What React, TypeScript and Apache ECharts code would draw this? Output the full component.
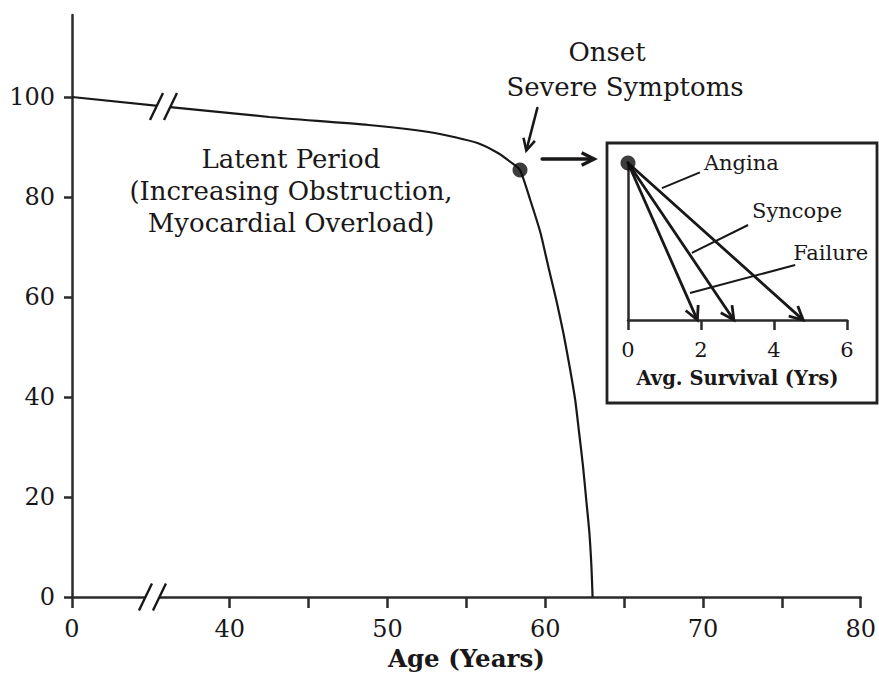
import React, { useEffect, useRef } from "react";
import * as echarts from "echarts";

// ---- data ----
const ages = [
  0, 42.5, 48.8, 53.0, 55.7, 57.0, 57.8, 58.4, 59.05, 59.7, 60.2, 60.7, 61.15, 61.55, 61.9, 62.15, 62.4,
  62.6, 62.8, 62.93, 63.0,
];
const survival = [
  100, 96.0, 94.4, 92.8, 90.8, 88.8, 87.0, 85.4, 79.4, 72.8, 66.0, 59.4, 52.8, 46.0, 39.4, 32.8, 26.0, 19.4,
  12.8, 6.0, 0,
];
const onsetAge = 58.4;
const onsetSurvival = 85.4;
const xTickValues = [0, 40, 45, 50, 55, 60, 65, 70, 75, 80];
const xLabelValues = [0, 40, 50, 60, 70, 80];
const yLabelValues = [0, 20, 40, 60, 80, 100];
const symptoms = ["Angina", "Syncope", "Failure"];
const avgSurvivalYears = [4.8, 2.9, 1.9];
const insetTicks = [0, 2, 4, 6];

// axis break: ages below 40 are drawn shifted (age 0 sits where 30 would be)
const BREAK_SHIFT = 30;
const toAxis = (a: number) => (a < 40 ? a + BREAK_SHIFT : a);
const fromAxis = (v: number) => (v < 40 ? v - BREAK_SHIFT : v);

// annotation anchors (data coordinates)
const ANN = {
  onsetArrow: [59.5, 97.8, 58.8, 89.3],
  toInsetArrow: [59.8, 87.6, 63.1, 87.6],
  breaks: [
    [35.1, 0],
    [35.8, 98.1],
  ],
  leaders: [
    [0.93, 0.84, 1.97, 0.94],
    [1.75, 0.427, 3.29, 0.605],
    [1.7, 0.172, 4.58, 0.35],
  ],
  leaderTextOffset: [
    [4, -9],
    [4, -14],
    [-2, -12],
  ],
};

const FONT = '"DejaVu Serif", "Liberation Serif", serif';
const INK = "#1a1718";

function arrowRender(lw: number, head: number) {
  return (params: any, api: any) => {
    const p1 = api.coord([api.value(0), api.value(1)]);
    const p2 = api.coord([api.value(2), api.value(3)]);
    const dx = p2[0] - p1[0];
    const dy = p2[1] - p1[1];
    const len = Math.hypot(dx, dy) || 1;
    const ux = dx / len;
    const uy = dy / len;
    const ang = (27 * Math.PI) / 180;
    const rot = (a: number) => [ux * Math.cos(a) - uy * Math.sin(a), ux * Math.sin(a) + uy * Math.cos(a)];
    const b1 = rot(ang);
    const b2 = rot(-ang);
    const pts = [
      [p2[0] - head * b1[0], p2[1] - head * b1[1]],
      [p2[0], p2[1]],
      [p2[0] - head * b2[0], p2[1] - head * b2[1]],
    ];
    return {
      type: "group",
      children: [
        {
          type: "line",
          shape: { x1: p1[0], y1: p1[1], x2: p2[0] - ux * 1, y2: p2[1] - uy * 1 },
          style: { stroke: INK, lineWidth: lw, lineCap: "round" },
        },
        {
          type: "polyline",
          shape: { points: pts },
          style: { stroke: INK, lineWidth: lw, fill: null, lineJoin: "miter" },
        },
      ],
    };
  };
}

export default function App() {
  const ref = useRef<HTMLDivElement>(null);

  useEffect(() => {
    if (!ref.current) return;
    const chart = echarts.init(ref.current, null, { renderer: "svg" });

    const curve = ages.map((a, i) => [toAxis(a), survival[i]]);

    const option: any = {
      animation: false,
      backgroundColor: "#ffffff",
      grid: [
        { left: 72, right: 13, top: 15, bottom: 88 },
        { left: 628, top: 163, width: 219, height: 157 },
      ],
      xAxis: [
        {
          gridIndex: 0,
          type: "value",
          min: 30,
          max: 80,
          interval: 5,
          axisLine: { show: true, onZero: false, lineStyle: { color: "#2a2a2a", width: 2.5 } },
          axisTick: {
            show: true,
            length: 11,
            customValues: xTickValues.map(toAxis),
            lineStyle: { color: "#2a2a2a", width: 2.5 },
          },
          axisLabel: {
            customValues: xLabelValues.map(toAxis),
            formatter: (v: number) => String(fromAxis(v)),
            margin: 20,
            color: INK,
            fontFamily: FONT,
            fontSize: 24,
          },
          splitLine: { show: false },
          name: "Age (Years)",
          nameLocation: "middle",
          nameGap: 47,
          nameTextStyle: { color: INK, fontFamily: FONT, fontSize: 24.5, fontWeight: "bold" },
        },
        {
          gridIndex: 1,
          type: "value",
          min: 0,
          max: 6,
          interval: 2,
          axisLine: { show: true, onZero: false, lineStyle: { color: "#2a2a2a", width: 2.5 } },
          axisTick: {
            show: true,
            length: 10,
            customValues: insetTicks,
            lineStyle: { color: "#2a2a2a", width: 2.5 },
          },
          axisLabel: {
            customValues: insetTicks,
            margin: 19,
            color: INK,
            fontFamily: FONT,
            fontSize: 21,
          },
          splitLine: { show: false },
          name: "Avg. Survival (Yrs)",
          nameLocation: "middle",
          nameGap: 48,
          nameTextStyle: { color: INK, fontFamily: FONT, fontSize: 19.5, fontWeight: "bold" },
        },
      ],
      yAxis: [
        {
          gridIndex: 0,
          type: "value",
          min: 0,
          max: 116.4,
          axisLine: { show: true, onZero: false, lineStyle: { color: "#2a2a2a", width: 2.5 } },
          axisTick: {
            show: true,
            length: 8,
            customValues: yLabelValues,
            lineStyle: { color: "#2a2a2a", width: 2.5 },
          },
          axisLabel: {
            customValues: yLabelValues,
            margin: 17,
            color: INK,
            fontFamily: FONT,
            fontSize: 24,
          },
          splitLine: { show: false },
        },
        {
          gridIndex: 1,
          type: "value",
          min: 0,
          max: 1,
          axisLine: { show: true, onZero: false, lineStyle: { color: "#2a2a2a", width: 2.5 } },
          axisTick: { show: false },
          axisLabel: { show: false },
          splitLine: { show: false },
        },
      ],
      graphic: [
        {
          type: "rect",
          z: -1,
          shape: { x: 607, y: 143, width: 270, height: 260 },
          style: { fill: "#ffffff", stroke: "#222", lineWidth: 2.8 },
        },
        {
          type: "text",
          x: 291,
          y: 191,
          style: {
            text: "Latent Period\n(Increasing Obstruction,\nMyocardial Overload)",
            font: `26px ${FONT}`,
            fill: INK,
            align: "center",
            verticalAlign: "middle",
            textAlign: "center",
            textVerticalAlign: "middle",
            lineHeight: 32,
          },
        },
        {
          type: "text",
          x: 607,
          y: 52,
          style: {
            text: "Onset",
            font: `26px ${FONT}`,
            fill: INK,
            align: "center",
            verticalAlign: "middle",
            textAlign: "center",
            textVerticalAlign: "middle",
          },
        },
        {
          type: "text",
          x: 625,
          y: 87,
          style: {
            text: "Severe Symptoms",
            font: `26px ${FONT}`,
            fill: INK,
            align: "center",
            verticalAlign: "middle",
            textAlign: "center",
            textVerticalAlign: "middle",
          },
        },
      ],
      series: [
        {
          type: "line",
          xAxisIndex: 0,
          yAxisIndex: 0,
          data: curve,
          smooth: 0.2,
          showSymbol: false,
          symbol: "none",
          lineStyle: { color: INK, width: 2.2 },
          z: 3,
        },
        {
          type: "custom",
          xAxisIndex: 0,
          yAxisIndex: 0,
          clip: false,
          z: 4,
          data: ANN.breaks,
          renderItem: (params: any, api: any) => {
            const c = api.coord([api.value(0), api.value(1)]);
            const gap = 7;
            const hw = 6.5;
            const hh = 13.5;
            const s1 = [
              [c[0] - gap - hw, c[1] + hh],
              [c[0] - gap + hw, c[1] - hh],
            ];
            const s2 = [
              [c[0] + gap - hw, c[1] + hh],
              [c[0] + gap + hw, c[1] - hh],
            ];
            return {
              type: "group",
              children: [
                {
                  type: "polygon",
                  shape: { points: [s1[0], s1[1], s2[1], s2[0]] },
                  style: { fill: "#ffffff" },
                },
                {
                  type: "line",
                  shape: { x1: s1[0][0], y1: s1[0][1], x2: s1[1][0], y2: s1[1][1] },
                  style: { stroke: INK, lineWidth: 2.4 },
                },
                {
                  type: "line",
                  shape: { x1: s2[0][0], y1: s2[0][1], x2: s2[1][0], y2: s2[1][1] },
                  style: { stroke: INK, lineWidth: 2.4 },
                },
              ],
            };
          },
        },
        {
          type: "scatter",
          xAxisIndex: 0,
          yAxisIndex: 0,
          data: [[onsetAge, onsetSurvival]],
          symbol: "circle",
          symbolSize: 15,
          itemStyle: { color: "#0d0d0d" },
          z: 5,
        },
        {
          type: "custom",
          xAxisIndex: 0,
          yAxisIndex: 0,
          clip: false,
          z: 5,
          data: [ANN.onsetArrow],
          renderItem: arrowRender(2.6, 13),
        },
        {
          type: "custom",
          xAxisIndex: 0,
          yAxisIndex: 0,
          clip: false,
          z: 5,
          data: [ANN.toInsetArrow],
          renderItem: arrowRender(3.4, 14),
        },
        // inset
        {
          type: "custom",
          xAxisIndex: 1,
          yAxisIndex: 1,
          clip: false,
          z: 5,
          data: avgSurvivalYears.map((v) => [0, 1, v, 0]),
          renderItem: arrowRender(2.8, 15),
        },
        {
          type: "custom",
          xAxisIndex: 1,
          yAxisIndex: 1,
          clip: false,
          z: 6,
          data: ANN.leaders,
          renderItem: (params: any, api: any) => {
            const p1 = api.coord([api.value(0), api.value(1)]);
            const p2 = api.coord([api.value(2), api.value(3)]);
            const off = ANN.leaderTextOffset[params.dataIndex];
            return {
              type: "group",
              children: [
                {
                  type: "line",
                  shape: { x1: p1[0], y1: p1[1], x2: p2[0], y2: p2[1] },
                  style: { stroke: INK, lineWidth: 2 },
                },
                {
                  type: "text",
                  style: {
                    text: symptoms[params.dataIndex],
                    x: p2[0] + off[0],
                    y: p2[1] + off[1],
                    font: `21px ${FONT}`,
                    fill: INK,
                    align: "left",
                    verticalAlign: "middle",
                    textAlign: "left",
                    textVerticalAlign: "middle",
                  },
                },
              ],
            };
          },
        },
        {
          type: "scatter",
          xAxisIndex: 1,
          yAxisIndex: 1,
          data: [[0, 1]],
          symbol: "circle",
          symbolSize: 15,
          itemStyle: { color: "#0d0d0d" },
          z: 7,
        },
      ],
    };

    chart.setOption(option);
    return () => {
      chart.dispose();
    };
  }, []);

  return (
    <div
      ref={ref}
      style={{ position: "fixed", left: 0, top: 0, width: 879, height: 685, background: "#fff" }}
    />
  );
}
